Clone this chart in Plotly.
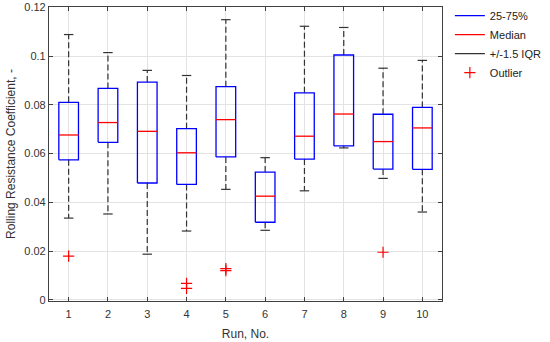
import plotly.graph_objects as go

runs = [1, 2, 3, 4, 5, 6, 7, 8, 9, 10]
upper = [0.1088, 0.1014, 0.0941, 0.0920, 0.1149, 0.0583, 0.1122, 0.1117, 0.0950, 0.0982]
q3 = [0.0810, 0.0867, 0.0893, 0.0702, 0.0874, 0.0524, 0.0849, 0.1004, 0.0761, 0.0789]
median = [0.0676, 0.0727, 0.0691, 0.0603, 0.0739, 0.0425, 0.0671, 0.0762, 0.0649, 0.0705]
q1 = [0.0574, 0.0646, 0.0479, 0.0473, 0.0586, 0.0318, 0.0577, 0.0631, 0.0536, 0.0535]
lower = [0.0335, 0.0352, 0.0187, 0.0282, 0.0453, 0.0285, 0.0447, 0.0623, 0.0498, 0.0360]
outlier_run = [1, 4, 4, 5, 5, 9]
outlier_val = [0.0179, 0.0067, 0.0047, 0.0128, 0.0120, 0.0195]

BW = 0.25   # half box width
CW = 0.12   # half cap width

box_x, box_y = [], []
med_x, med_y = [], []
wh_x, wh_y = [], []
cap_x, cap_y = [], []
for r, u, a, m, b, l in zip(runs, upper, q3, median, q1, lower):
    box_x += [r - BW, r + BW, r + BW, r - BW, r - BW, None]
    box_y += [b, b, a, a, b, None]
    med_x += [r - BW, r + BW, None]
    med_y += [m, m, None]
    wh_x += [r, r, None, r, r, None]
    wh_y += [a, u, None, b, l, None]
    cap_x += [r - CW, r + CW, None, r - CW, r + CW, None]
    cap_y += [u, u, None, l, l, None]

fig = go.Figure()
fig.add_trace(go.Scatter(x=wh_x, y=wh_y, mode="lines", showlegend=False,
                         line=dict(color="#333333", width=1.2, dash="6px,3px"), hoverinfo="skip"))
fig.add_trace(go.Scatter(x=box_x, y=box_y, mode="lines", name="25-75%",
                         line=dict(color="#0000ff", width=1.3)))
fig.add_trace(go.Scatter(x=med_x, y=med_y, mode="lines", name="Median",
                         line=dict(color="#ff0000", width=1.3)))
fig.add_trace(go.Scatter(x=cap_x, y=cap_y, mode="lines", name="+/-1.5 IQR",
                         line=dict(color="#333333", width=1.2)))
fig.add_trace(go.Scatter(x=outlier_run, y=outlier_val, mode="markers", name="Outlier",
                         marker=dict(symbol="cross-thin", size=8, color="#ff0000",
                                     line=dict(color="#ff0000", width=1.2))))

axis_common = dict(showline=True, linecolor="#404040", linewidth=1.2, mirror="ticks",
                   ticks="inside", ticklen=4, tickcolor="#404040", automargin=False,
                   showgrid=True, gridcolor="#e3e3e3", gridwidth=1, zeroline=False,
                   tickfont=dict(size=11, color="#333333"))

fig.update_layout(
    width=550, height=342,
    margin=dict(l=49, r=108, t=7, b=41, autoexpand=False),
    paper_bgcolor="white", plot_bgcolor="white",
    font=dict(family="Liberation Sans, Arial, sans-serif", size=11, color="#333333"),
    legend=dict(x=1.02, y=1.02, xanchor="left", yanchor="top",
                font=dict(size=11, color="#222222"), bgcolor="rgba(0,0,0,0)",
                tracegroupgap=0, itemwidth=30),
    xaxis=dict(range=[0.5, 10.5], tickvals=runs, ticktext=[str(r) for r in runs],
               ticklabelstandoff=3,
               title=dict(text="Run, No.", font=dict(size=12), standoff=10), **axis_common),
    yaxis=dict(range=[-0.0005, 0.1201], tickvals=[0, 0.02, 0.04, 0.06, 0.08, 0.1, 0.12],
               ticktext=["0", "0.02", "0.04", "0.06", "0.08", "0.1", "0.12"],
               title=dict(text="Rolling Resistance Coefficient, -", font=dict(size=12), standoff=6),
               **axis_common),
)

fig.write_html("out.html", config={"displayModeBar": False},
               post_script="document.body.style.margin='0';")
